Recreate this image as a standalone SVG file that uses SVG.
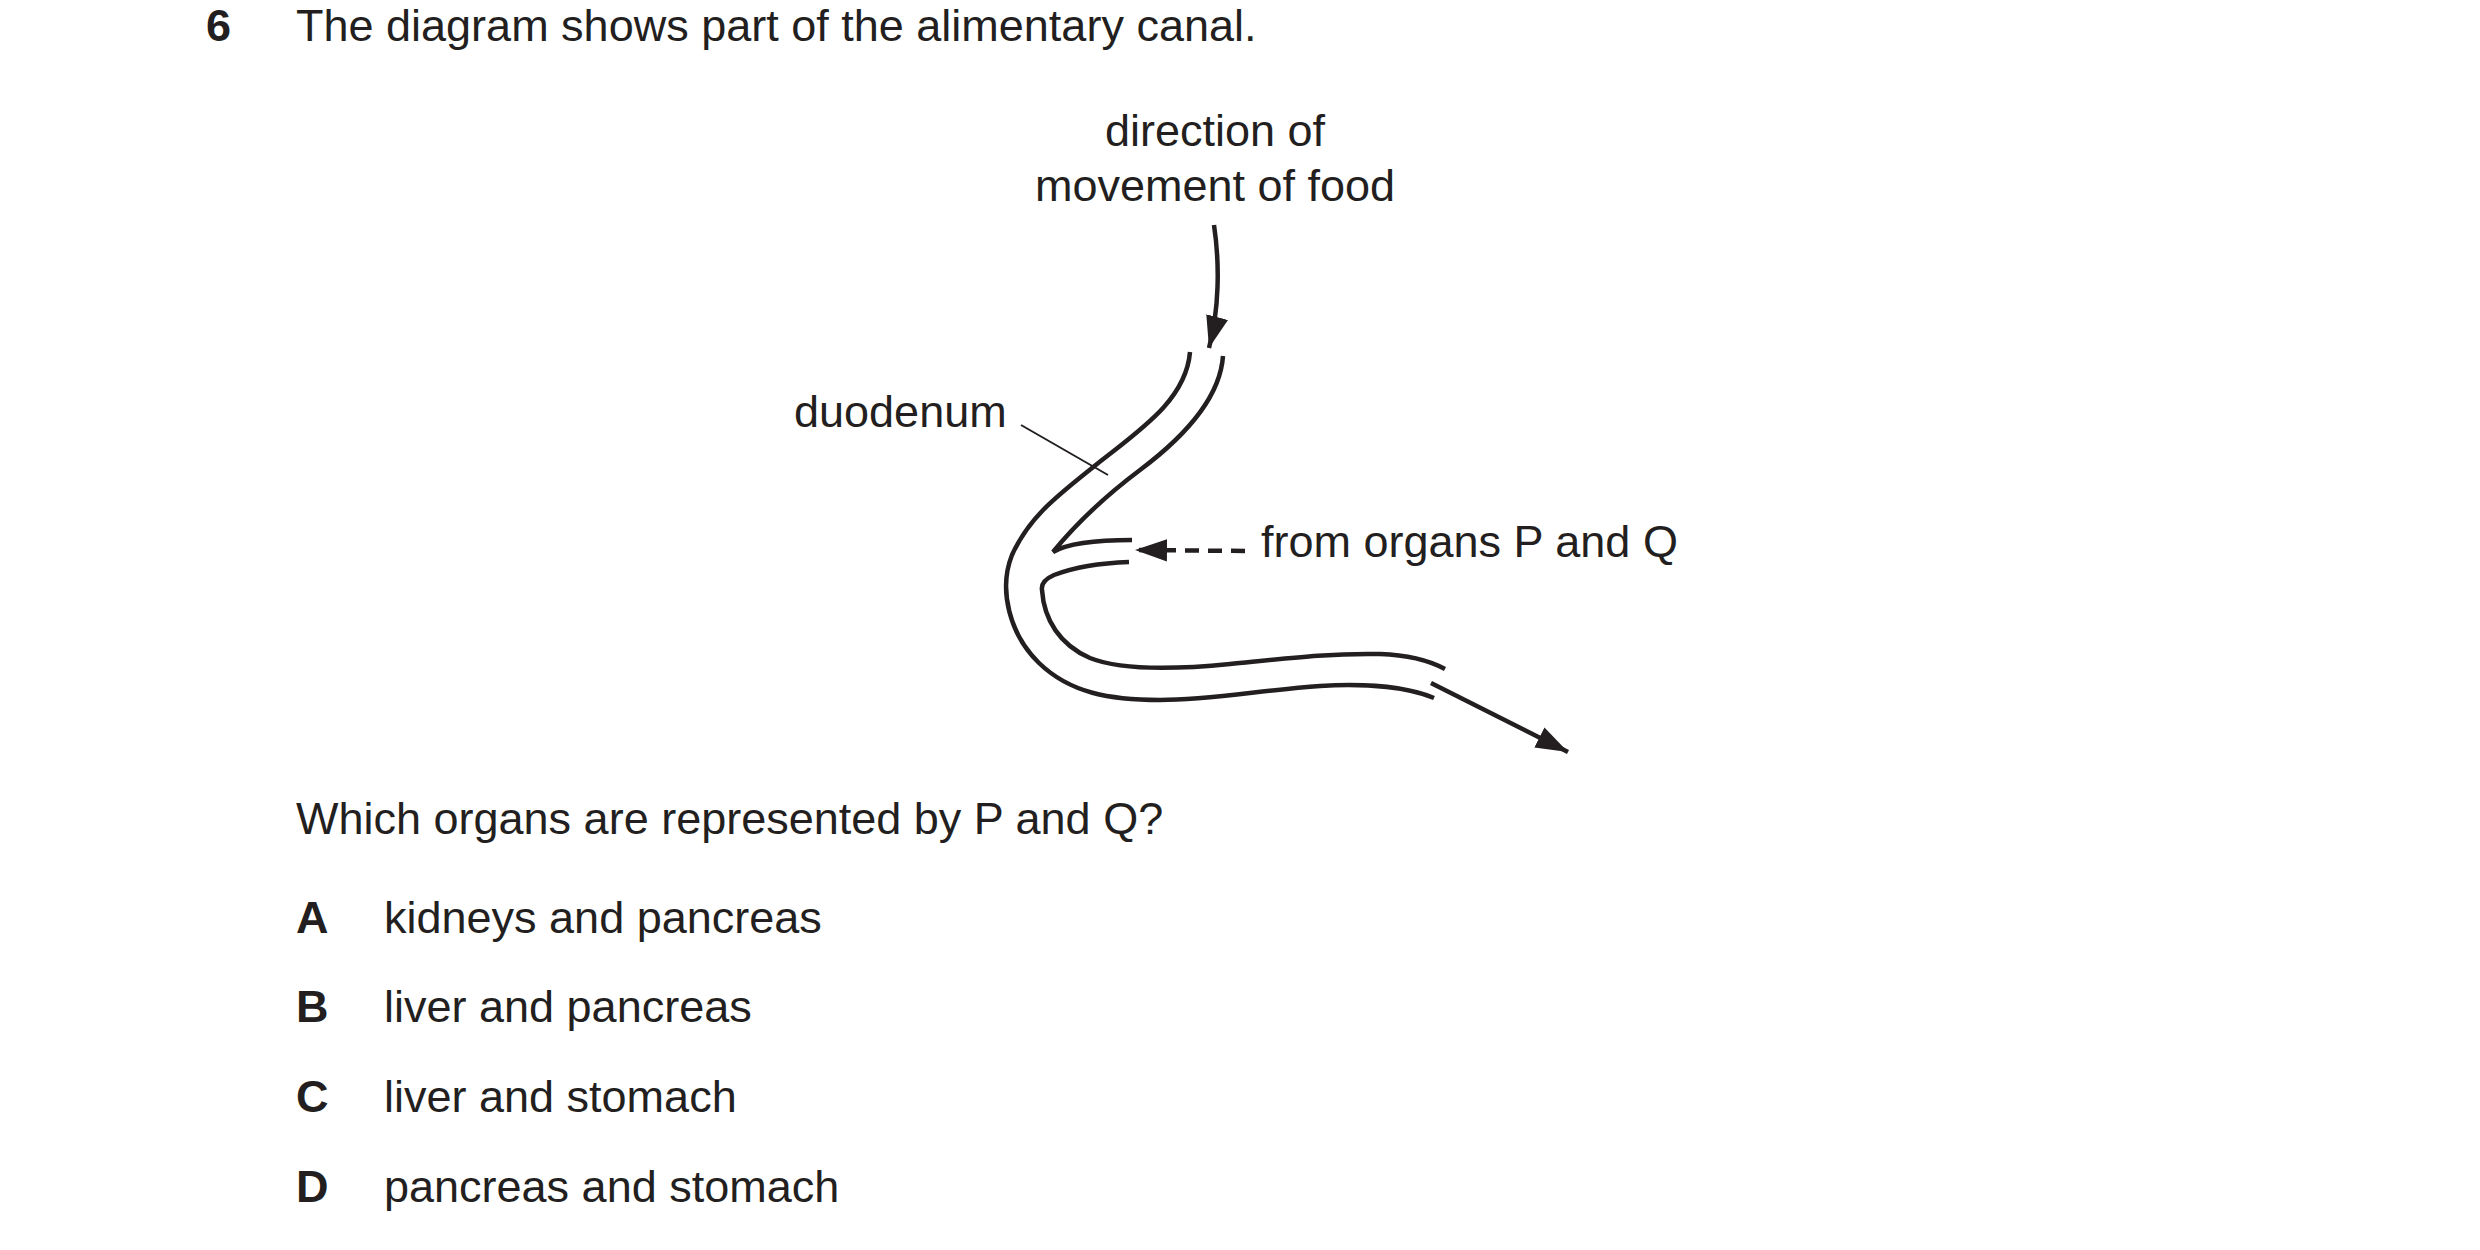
<svg xmlns="http://www.w3.org/2000/svg" width="2480" height="1250" viewBox="0 0 2480 1250">
<style>
text{font-family:"Liberation Sans",Arial,sans-serif;font-size:45px;fill:#231f20}
.b{font-weight:bold}
.w{fill:none;stroke:#231f20;stroke-width:4.5;stroke-linecap:butt}
</style>
<defs>
<marker id="ah" viewBox="0 0 10 10" refX="10" refY="5" markerWidth="32" markerHeight="32" markerUnits="userSpaceOnUse" orient="auto"><path d="M0,1.5 L10,5 L0,8.5 Z" fill="#231f20"/></marker>
</defs>
<rect width="2480" height="1250" fill="#fff"/>
<g id="texts">
<text x="206" y="41" class="b">6</text>
<text x="296" y="41">The diagram shows part of the alimentary canal.</text>
<text x="1215" y="146" text-anchor="middle">direction of</text>
<text x="1215" y="201" text-anchor="middle">movement of food</text>
<text x="794" y="427">duodenum</text>
<text x="1261" y="557">from organs P and Q</text>
<text x="296" y="834">Which organs are represented by P and Q?</text>
<text x="296" y="933" class="b">A</text><text x="384" y="933">kidneys and pancreas</text>
<text x="296" y="1022" class="b">B</text><text x="384" y="1022">liver and pancreas</text>
<text x="296" y="1112" class="b">C</text><text x="384" y="1112">liver and stomach</text>
<text x="296" y="1202" class="b">D</text><text x="384" y="1202">pancreas and stomach</text>
</g>
<g id="canal">
<path class="w" d="M1190,352 C1186,400 1140,430 1097,464 C1060,494 1030,515 1012,555 C998,590 1010,635 1039,663 C1070,693 1110,700 1160,700 C1210,700 1262,690 1320,686 C1370,683 1410,688 1434,698"/>
<path class="w" d="M1223,356 C1220,400 1180,440 1140,470 C1100,500 1075,525 1053,552 C1070,542 1100,540 1132,540"/>
<path class="w" d="M1129,562 C1100,563 1075,567 1054,575 C1045,579 1041,584 1042,590 C1044,620 1060,645 1090,658 C1120,670 1170,670 1230,664 C1290,658 1330,653 1380,654 C1410,655 1430,661 1445,669"/>
</g>
<g id="connectors">
<path class="w" d="M1214,225 C1220,265 1219,310 1209,348" marker-end="url(#ah)"/>
<path class="w" d="M1431,683 L1568,752" marker-end="url(#ah)"/>
<path class="w" d="M1245,551 L1135,550" stroke-dasharray="14,9" marker-end="url(#ah)"/>
<path d="M1021,425 L1108,475" stroke="#231f20" stroke-width="2" fill="none"/>
</g>
</svg>
